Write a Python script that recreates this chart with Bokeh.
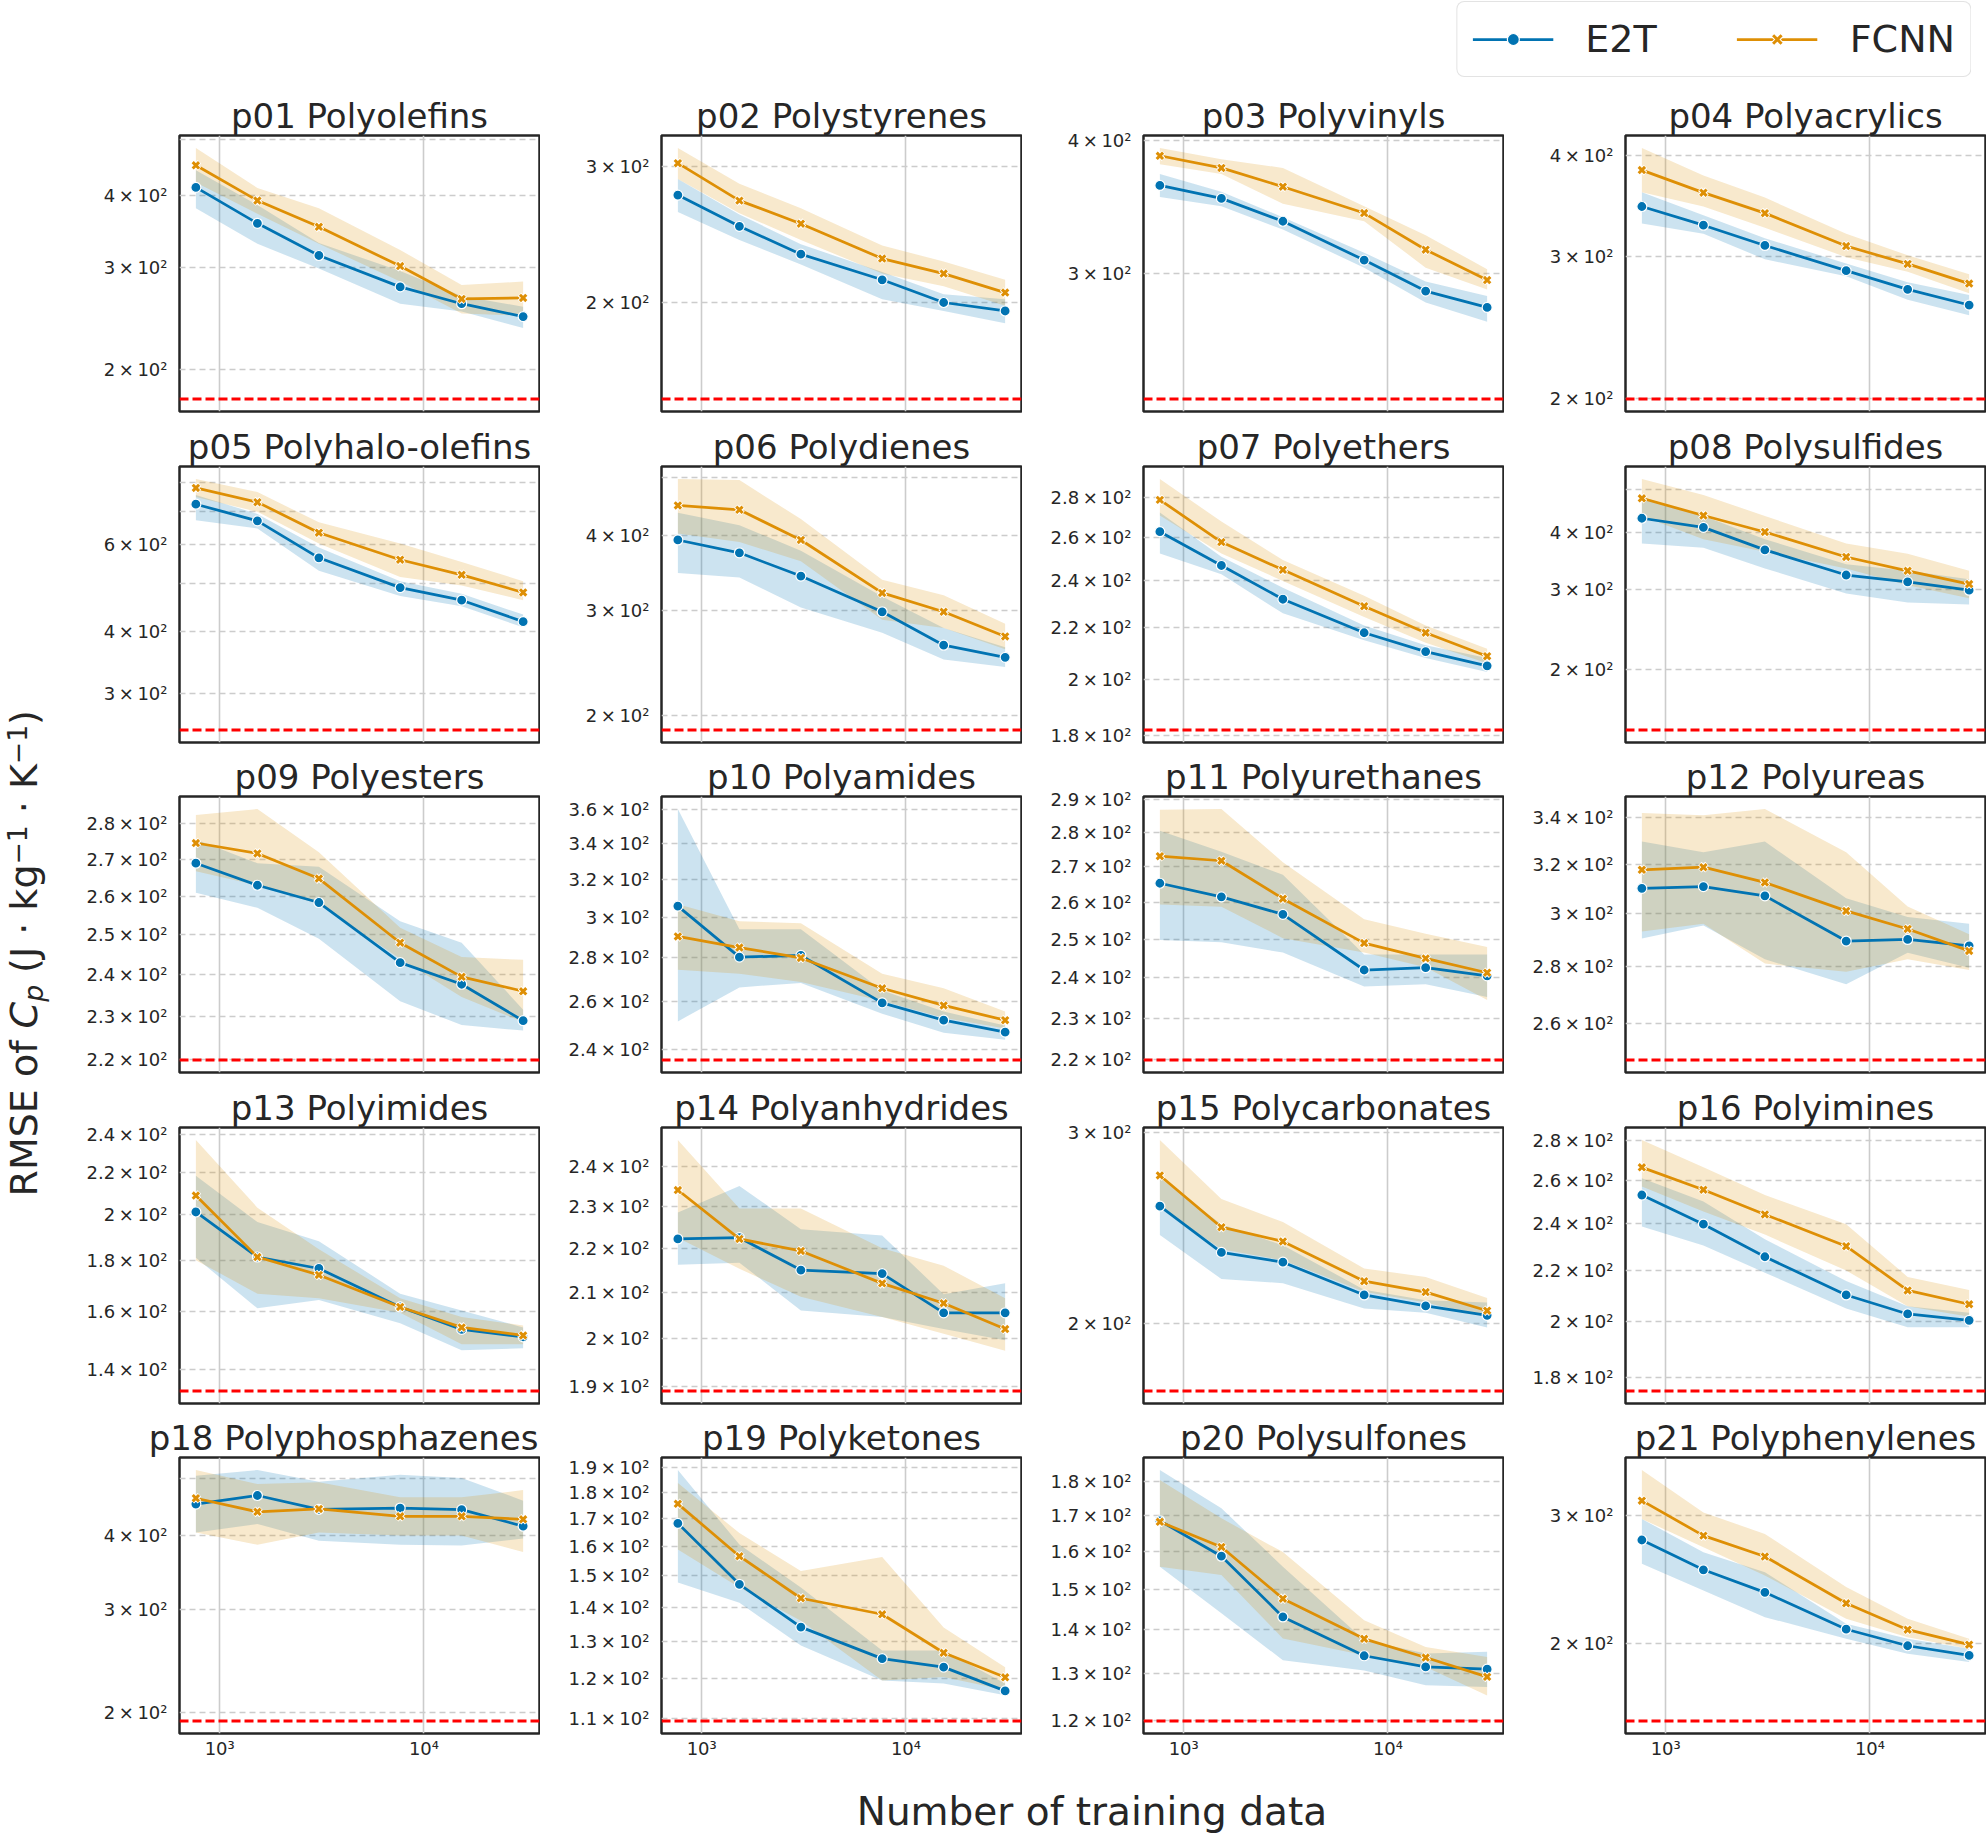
import math
from bokeh.plotting import figure
from bokeh.models import Range1d, FixedTicker, Span, Label, Legend, LegendItem, Grid
from bokeh.layouts import row, column
from bokeh.embed import file_html
from bokeh.resources import INLINE

# ---------------- data ----------------
TRAIN_SIZES = [764, 1529, 3058, 7645, 15290, 30580]

TITLES = ["p01 Polyolefins", "p02 Polystyrenes", "p03 Polyvinyls", "p04 Polyacrylics",
          "p05 Polyhalo-olefins", "p06 Polydienes", "p07 Polyethers", "p08 Polysulfides",
          "p09 Polyesters", "p10 Polyamides", "p11 Polyurethanes", "p12 Polyureas",
          "p13 Polyimides", "p14 Polyanhydrides", "p15 Polycarbonates", "p16 Polyimines",
          "p18 Polyphosphazenes", "p19 Polyketones", "p20 Polysulfones", "p21 Polyphenylenes"]

BASELINE = [178, 150, 229, 199.5, 253, 189, 182, 147, 220, 235.6,
            220, 247.8, 133.4, 189.2, 173.2, 175.6, 193.7, 109.4, 120, 156.1]

E2T_MEAN = [
    [413, 358, 315, 278, 260, 247],
    [275.5, 251, 231, 214, 200, 195],
    [363, 353, 336, 309, 289, 279],
    [346, 328, 309.5, 288, 273, 261],
    [724, 670, 564, 491, 463, 419],
    [393, 374, 342, 298, 262, 250],
    [263, 247, 232, 218, 210.5, 205],
    [431, 411.5, 367, 323, 312, 299],
    [269, 263, 258.4, 243, 237.7, 229],
    [305.7, 280.4, 281.2, 259.5, 252, 247],
    [265.3, 261.5, 256.7, 242, 242.6, 240.5],
    [310, 310.7, 307, 289.4, 290, 287.6],
    [201, 181.3, 176.6, 161.7, 153.6, 151],
    [222.2, 222.5, 215, 214.2, 205.5, 205.5],
    [256.5, 232.5, 227.7, 212.4, 207.5, 203.4],
    [253, 239.6, 225.5, 210, 202.7, 200.3],
    [452.6, 468, 443.4, 445.6, 442.7, 415],
    [168.2, 147.3, 134.2, 125.3, 123, 116.8],
    [168.4, 158.6, 143.1, 134, 131.5, 131],
    [277.6, 252.5, 235, 209, 198.3, 192.3],
]
E2T_LOW = [
    [380, 330, 299, 260, 252, 236],
    [262, 241, 224, 202, 195, 188],
    [354, 347, 330, 304, 282, 270.5],
    [329.5, 320, 297.5, 283.5, 265, 253.5],
    [672, 646.5, 531, 472, 450, 408],
    [346, 340, 303, 275, 248, 241],
    [252.6, 243, 226, 215, 208, 202.7],
    [379, 371, 334, 294, 281, 278],
    [261, 257, 249, 233.6, 228, 226.7],
    [251.5, 266.4, 268.4, 254.8, 246.7, 243.8],
    [249.8, 249.2, 246.5, 237.8, 238.4, 235.2],
    [290.4, 295.3, 282.6, 273.5, 285, 279.5],
    [181, 161.2, 164.3, 155.8, 146.4, 147.1],
    [216.2, 216.7, 206, 204.6, 202, 199.6],
    [241.3, 219.7, 217.8, 206.4, 204.5, 198.2],
    [238.6, 230.3, 218.9, 204.8, 197.7, 197.7],
    [405, 418.7, 392, 386, 385, 395.5],
    [147.9, 141.5, 128.9, 119.5, 118.7, 115.7],
    [155.8, 144, 133, 130.7, 127.5, 127.1],
    [257.3, 236.4, 217.2, 202.8, 193.3, 188.3],
]
E2T_HIGH = [
    [442, 385, 331, 296, 268, 257],
    [289, 260, 238, 219, 205, 202],
    [372, 358, 339, 314, 295, 286],
    [360.5, 337.5, 316, 294, 278.5, 268.6],
    [756, 692, 592, 506, 477, 433],
    [436.5, 416, 377, 316, 280, 260],
    [272.5, 251, 237, 221, 213, 208],
    [480, 436, 387.5, 341, 330, 316],
    [275.6, 269, 268, 253.5, 248, 231.6],
    [360.3, 294, 294, 265, 255.7, 249.7],
    [280.5, 274.3, 267.7, 246, 246, 246],
    [329.5, 325, 329.5, 306, 298.6, 296],
    [218.4, 196.4, 188, 166.7, 160.4, 154.3],
    [228.5, 235, 224.5, 223, 209.6, 212],
    [272.3, 246.8, 236, 214.8, 210, 209],
    [261, 250, 233, 215.5, 205.6, 203.2],
    [505.7, 517, 494, 507.6, 501, 458.6],
    [188.9, 160.6, 146.3, 127.5, 127.5, 118.7],
    [183.5, 172, 155.8, 137.6, 134.5, 134.9],
    [296.8, 267, 250.6, 212.7, 202.8, 196.4],
]
FCNN_MEAN = [
    [451, 392, 353, 302, 265, 266],
    [303, 271, 253, 228, 218, 206],
    [387, 377, 362, 342, 316, 296],
    [384, 360, 339.5, 309, 293.6, 277.5],
    [781, 731, 634, 559, 521, 480],
    [449, 441.5, 393, 320.5, 298, 271],
    [279, 258, 245, 229, 218, 208.7],
    [477, 437, 402, 354, 330, 308.5],
    [274.6, 271.7, 264.8, 248, 239.5, 236],
    [290.4, 285, 280, 266, 258.4, 252],
    [273, 271.7, 261, 249, 245, 241.3],
    [317.6, 318.7, 312.4, 301, 294, 285.7],
    [208.7, 181.3, 174, 161.7, 154.3, 151.5],
    [234, 222.2, 219.4, 212, 207.6, 202],
    [273.8, 245.3, 238, 218.7, 213.7, 205.4],
    [266.4, 255.5, 244, 230, 211.8, 206.4],
    [463, 439, 444, 431.4, 431.4, 426.4],
    [175.5, 156.6, 142.9, 138, 126.9, 120.3],
    [168.1, 161.1, 147.6, 137.9, 133.6, 129.3],
    [314.6, 281.5, 263.4, 227, 208.7, 199],
]
FCNN_LOW = [
    [421, 372, 330, 284, 250, 248],
    [289, 261, 241, 218, 210, 198],
    [380, 372, 349, 336, 304, 290],
    [360.5, 346, 325.6, 299.3, 287, 270],
    [748.5, 699, 603, 516, 496, 463],
    [403, 390, 362, 289, 280, 258],
    [271, 252.6, 240, 224.5, 214, 206],
    [436, 387.5, 363.5, 334, 306.5, 287],
    [266.8, 263, 258, 244, 234.6, 228.7],
    [274.5, 272.6, 268.8, 260.3, 253, 248.5],
    [259.4, 258.8, 250.3, 246.5, 242.7, 234.4],
    [293, 296, 281, 278, 282.6, 278.7],
    [180, 166.7, 165, 159.6, 148.5, 148.5],
    [222.5, 215.3, 209, 204.6, 201, 197.4],
    [255.8, 234, 228.7, 213.9, 209, 202.7],
    [257, 245.3, 235, 219.8, 205.6, 201.6],
    [405, 386, 405, 400, 400, 375],
    [158.9, 146.3, 136.1, 119.5, 120.4, 117],
    [155.8, 153.6, 138, 134.1, 131.5, 125.3],
    [296.8, 271.3, 248, 216, 203.8, 196.4],
]
FCNN_HIGH = [
    [483, 412, 380, 322, 280, 284],
    [317, 285, 265, 237, 226, 214],
    [393.5, 384, 377, 347, 326, 303],
    [409, 378, 355, 320, 301, 285],
    [814, 766, 665.5, 603, 553, 506],
    [497, 495, 426, 337, 317.5, 284.5],
    [290, 268, 249.5, 233.5, 221, 211.6],
    [526, 485, 436, 379, 360, 330],
    [282.6, 284.3, 272, 251.8, 244.4, 243.7],
    [306.6, 298, 297, 272.6, 266, 255.7],
    [286.8, 287, 271.3, 255.4, 251.5, 248],
    [342, 341, 343.8, 325, 302.7, 292],
    [237, 203, 184.5, 165, 158, 155],
    [246.7, 229.5, 229.5, 220, 216, 208.7],
    [295.2, 260.5, 248, 224.7, 220.7, 211],
    [280.3, 266.4, 253, 239.6, 217.2, 212],
    [517, 489.6, 492.8, 464.6, 464.6, 478],
    [183.6, 164.7, 151.6, 156.3, 134.1, 123],
    [180.4, 169.1, 159.7, 142.3, 136, 133.7],
    [346.8, 303, 283, 239, 216, 202.8],
]

Y_TICKS = [
    [200, 300, 400, 500],
    [200, 300],
    [300, 400],
    [200, 300, 400],
    [300, 400, 500, 600, 700, 800],
    [200, 300, 400, 500],
    [180, 200, 220, 240, 260, 280],
    [200, 300, 400, 500],
    [220, 230, 240, 250, 260, 270, 280],
    [240, 260, 280, 300, 320, 340, 360],
    [220, 230, 240, 250, 260, 270, 280, 290],
    [260, 280, 300, 320, 340],
    [140, 160, 180, 200, 220, 240],
    [190, 200, 210, 220, 230, 240],
    [200, 300],
    [180, 200, 220, 240, 260, 280],
    [200, 300, 400, 500],
    [110, 120, 130, 140, 150, 160, 170, 180, 190],
    [120, 130, 140, 150, 160, 170, 180],
    [200, 300],
]
Y_TICK_COEF = [
    ["2", "3", "4", ""],
    ["2", "3"],
    ["3", "4"],
    ["2", "3", "4"],
    ["3", "4", "", "6", "", ""],
    ["2", "3", "4", ""],
    ["1.8", "2", "2.2", "2.4", "2.6", "2.8"],
    ["2", "3", "4", ""],
    ["2.2", "2.3", "2.4", "2.5", "2.6", "2.7", "2.8"],
    ["2.4", "2.6", "2.8", "3", "3.2", "3.4", "3.6"],
    ["2.2", "2.3", "2.4", "2.5", "2.6", "2.7", "2.8", "2.9"],
    ["2.6", "2.8", "3", "3.2", "3.4"],
    ["1.4", "1.6", "1.8", "2", "2.2", "2.4"],
    ["1.9", "2", "2.1", "2.2", "2.3", "2.4"],
    ["2", "3"],
    ["1.8", "2", "2.2", "2.4", "2.6", "2.8"],
    ["2", "3", "4", ""],
    ["1.1", "1.2", "1.3", "1.4", "1.5", "1.6", "1.7", "1.8", "1.9"],
    ["1.2", "1.3", "1.4", "1.5", "1.6", "1.7", "1.8"],
    ["2", "3"],
]
X_TICKS = [1000, 10000]
X_TICK_LABELS = ["10³", "10⁴"]
SERIES = ["E2T", "FCNN"]
X_LABEL = "Number of training data"

# ---------------- style ----------------
BLUE = "#0173b2"
ORANGE = "#de8f05"
INK = "#262626"
FONT = "DejaVu Sans"
GRID = "#cccccc"

S_W = 58          # y-label strip width
B_LEFT = 121
FRAME_W = 360
B_RIGHT = 1
FRAME_H = 276
B_TOP = 50
ROW_BOTTOM = [5, 4, 5, 4]
BOTTOM_LAST = 40
TOP_H = 85
XL_H = 61
TOTAL_H = TOP_H + sum(B_TOP + FRAME_H + b for b in ROW_BOTTOM) + B_TOP + FRAME_H + BOTTOM_LAST + XL_H
GRID_W = 4 * (B_LEFT + FRAME_W + B_RIGHT)


def tick_label(c):
    return (c + "\u2009×\u200910²") if c else ""


def make_panel(i, r):
    last = (r == 4)
    xs = TRAIN_SIZES
    lo = BASELINE[i]
    hi = max(max(E2T_HIGH[i]), max(FCNN_HIGH[i]))
    ypad = 0.05 * math.log10(hi / lo)
    xpad = 0.05 * math.log10(xs[-1] / xs[0])
    p = figure(x_axis_type="log", y_axis_type="log",
               x_range=Range1d(xs[0] / 10 ** xpad, xs[-1] * 10 ** xpad),
               y_range=Range1d(lo / 10 ** ypad, hi * 10 ** ypad),
               frame_width=FRAME_W, frame_height=FRAME_H,
               min_border_left=B_LEFT, min_border_right=B_RIGHT,
               min_border_top=B_TOP,
               min_border_bottom=(BOTTOM_LAST if last else ROW_BOTTOM[r]),
               x_axis_location=("below" if last else None), y_axis_location="left",
               toolbar_location=None, output_backend="svg", title=TITLES[i])
    p.background_fill_color = "white"
    p.border_fill_color = "white"
    p.outline_line_color = INK
    p.outline_line_width = 2.5

    t = p.title
    t.text_font = FONT
    t.text_font_size = "34px"
    t.text_font_style = "normal"
    t.text_color = INK
    t.standoff = 0
    if i == 16:
        t.align = "right"
        t.offset = 1
    else:
        t.align = "center"

    for g in list(p.center):
        if isinstance(g, Grid):
            g.visible = False
    p.add_layout(Grid(dimension=0, ticker=FixedTicker(ticks=X_TICKS),
                      grid_line_color=GRID, grid_line_width=1.6))
    p.add_layout(Grid(dimension=1, ticker=FixedTicker(ticks=Y_TICKS[i]),
                      grid_line_color=GRID, grid_line_width=1.6, grid_line_dash="6 4"))

    ya = p.yaxis[0]
    ya.ticker = FixedTicker(ticks=Y_TICKS[i])
    ya.major_label_overrides = {float(tk): tick_label(c) for tk, c in zip(Y_TICKS[i], Y_TICK_COEF[i])}
    ya.major_tick_line_color = None
    ya.minor_tick_line_color = None
    ya.major_tick_out = 0
    ya.minor_tick_out = 0
    ya.axis_line_color = None
    ya.major_label_standoff = 12
    ya.major_label_text_font = FONT
    ya.major_label_text_font_size = "18px"
    ya.major_label_text_color = INK

    if last:
        xa = p.xaxis[0]
        xa.ticker = FixedTicker(ticks=X_TICKS)
        xa.major_label_overrides = {float(tk): lab for tk, lab in zip(X_TICKS, X_TICK_LABELS)}
        xa.major_tick_line_color = None
        xa.minor_tick_line_color = None
        xa.major_tick_out = 0
        xa.minor_tick_out = 0
        xa.axis_line_color = None
        xa.major_label_standoff = 4
        xa.major_label_text_font = FONT
        xa.major_label_text_font_size = "18px"
        xa.major_label_text_color = INK

    # confidence bands (below lines)
    p.varea(x=xs, y1=E2T_LOW[i], y2=E2T_HIGH[i], fill_color=BLUE, fill_alpha=0.2)
    p.varea(x=xs, y1=FCNN_LOW[i], y2=FCNN_HIGH[i], fill_color=ORANGE, fill_alpha=0.2)
    # E2T
    p.line(xs, E2T_MEAN[i], line_color=BLUE, line_width=2.75)
    p.scatter(xs, E2T_MEAN[i], marker="circle", size=10, fill_color=BLUE,
              line_color="white", line_width=1.2)
    # FCNN
    p.line(xs, FCNN_MEAN[i], line_color=ORANGE, line_width=2.75)
    p.scatter(xs, FCNN_MEAN[i], marker="x", size=10, line_color="white", line_width=5)
    p.scatter(xs, FCNN_MEAN[i], marker="x", size=9, line_color=ORANGE, line_width=3)

    p.add_layout(Span(location=BASELINE[i], dimension="width", line_color="red",
                      line_dash="9 4", line_width=3))
    return p


panels = [make_panel(i, i // 4) for i in range(20)]
rows = [row(*panels[r * 4:(r + 1) * 4], spacing=0) for r in range(5)]

# ---------------- legend strip ----------------
lg = figure(width=GRID_W, height=TOP_H, x_range=Range1d(0, 1), y_range=Range1d(0, 1),
            min_border_left=0, min_border_right=15, min_border_top=1, min_border_bottom=0,
            x_axis_location=None, y_axis_location=None, toolbar_location=None,
            output_backend="svg")
lg.outline_line_color = None
lg.grid.visible = False
NAN = [float("nan")]
l1 = lg.line(NAN, NAN, line_color=BLUE, line_width=2.75)
s1 = lg.scatter(NAN, NAN, marker="circle", size=10, fill_color=BLUE, line_color="white", line_width=1.2)
l2 = lg.line(NAN, NAN, line_color=ORANGE, line_width=2.75)
s2w = lg.scatter(NAN, NAN, marker="x", size=10, line_color="white", line_width=5)
s2 = lg.scatter(NAN, NAN, marker="x", size=9, line_color=ORANGE, line_width=3)
legend = Legend(items=[LegendItem(label=SERIES[0], renderers=[l1, s1]),
                       LegendItem(label=SERIES[1], renderers=[l2, s2w, s2])],
                location="top_right", orientation="horizontal", margin=0,
                padding=15, spacing=80, glyph_width=81, glyph_height=30,
                label_standoff=32, label_text_font=FONT, label_text_font_size="38px",
                label_text_color=INK, border_line_color="#c8c8c8", border_line_width=1.5,
                background_fill_color="white", background_fill_alpha=1.0)
try:
    legend.border_radius = 8
except Exception:
    pass
lg.add_layout(legend)

# ---------------- x-label strip ----------------
xl = figure(width=GRID_W, height=XL_H, x_range=Range1d(0, GRID_W), y_range=Range1d(0, XL_H),
            min_border=0, x_axis_location=None, y_axis_location=None,
            toolbar_location=None, output_backend="svg")
xl.outline_line_color = None
xl.grid.visible = False
xl.add_layout(Label(x=1041.5, y=23, text=X_LABEL, text_align="center",
                    text_baseline="middle", text_font=FONT, text_font_size="39px",
                    text_color=INK))

# ---------------- y-label strip ----------------
yl = figure(width=S_W, height=TOTAL_H, x_range=Range1d(0, S_W), y_range=Range1d(0, TOTAL_H),
            min_border=0, x_axis_location=None, y_axis_location=None,
            toolbar_location=None, output_backend="svg")
yl.outline_line_color = None
yl.grid.visible = False

YL_SIZE = 38.0
SUB = 0.7
# (text, scale, style, rise px, advance in font units /2048 incl. spaces stripped by SVG)
pieces = [
    ("RMSE of", 1.0, "normal", 0.0, 9060),
    ("C", 1.0, "italic", 0.0, 1430),
    ("p", SUB, "italic", -5.0, 1300 + 651 / SUB),
    ("(J · kg", 1.0, "normal", 0.0, 6493 - 651),
    ("\u22121", SUB, "normal", 11.0, 3019 + 651 / SUB),
    ("· K", 1.0, "normal", 0.0, 3296 - 651),
    ("\u22121", SUB, "normal", 11.0, 3019),
    (")", 1.0, "normal", 0.0, 799),
]
base_x = 37.0          # text baseline position (px from strip left)
ycur = TOTAL_H - 1196.0
for txt, scale, style, rise, adv in pieces:
    fs = YL_SIZE * scale
    bx = base_x - rise
    mid_x = bx - 0.346 * fs   # middle of the text box lies above (left of) the baseline
    yl.add_layout(Label(x=mid_x, y=ycur, text=txt, angle=math.pi / 2,
                        text_align="left", text_baseline="middle",
                        text_font=FONT, text_font_size=f"{fs:.1f}px",
                        text_font_style=style, text_color=INK))
    ycur += adv / 2048.0 * fs

layout = row(yl, column(lg, *rows, xl, spacing=0), spacing=0)

open("out.html", "w").write(file_html(layout, INLINE, title="RMSE vs training data"))
